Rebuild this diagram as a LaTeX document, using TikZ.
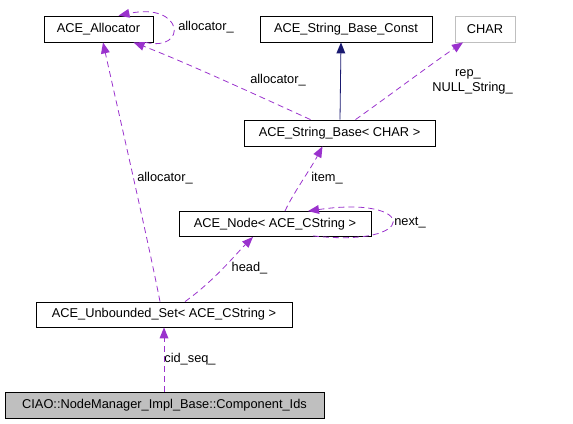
\documentclass[tikz,border=0pt]{standalone}
\usepackage{fontspec}
\setmainfont{Liberation Sans}
\usetikzlibrary{arrows.meta}
\definecolor{edgepurple}{HTML}{9A32CD}
\definecolor{edgenavy}{HTML}{191970}
\definecolor{boxgray}{HTML}{BFBFBF}
\begin{document}
\begin{tikzpicture}[x=1bp,y=-1bp,
  every node/.style={font=\fontsize{12.8bp}{14bp}\selectfont},
  cls/.style={draw=black,line width=0.8bp,minimum height=26bp,inner sep=0pt,fill=white},
  lbl/.style={inner sep=0pt},
  member/.style={draw=edgepurple,line width=0.8bp,dash pattern=on 6bp off 4bp,
    -{Triangle[length=11bp,width=9bp,fill=edgepurple,line width=0pt,sep=0pt]}},
  inherit/.style={draw=edgenavy,line width=0.8bp,
    -{Triangle[length=11bp,width=9bp,fill=edgenavy,line width=0pt]}}]
\useasboundingbox (0,0) rectangle (573,423);
% nodes
\node[cls,minimum width=109bp] (alloc) at (98.5,29) {ACE\_Allocator};
\node[cls,minimum width=172bp] (sbc) at (346,29) {ACE\_String\_Base\_Const};
\node[cls,draw=boxgray,minimum width=60bp] (char) at (485,29) {CHAR};
\node[cls,minimum width=191bp] (sb) at (339.5,133) {ACE\_String\_Base< CHAR >};
\node[cls,minimum width=192bp,minimum height=25bp] (node) at (275,224) {ACE\_Node< ACE\_CString >};
\node[cls,minimum width=256bp,minimum height=25bp] (uset) at (164,314.5) {ACE\_Unbounded\_Set< ACE\_CString >};
\node[cls,fill=boxgray,minimum width=319bp] (ciao) at (164.5,405) {CIAO::NodeManager\_Impl\_Base::Component\_Ids};
% edges
\draw[member] ([xshift=-4bp]uset.north) .. controls (148,240) and (118,110) .. ([xshift=4.5bp]alloc.south);
\draw[member] ([xshift=-29bp]sb.north) .. controls (250,92) and (180,60) .. ([xshift=35bp]alloc.south);
\draw[member] ([xshift=47bp]alloc.south) .. controls (188,52) and (184,2) .. ([xshift=20bp]alloc.north);
\draw[inherit] ([xshift=0.5bp]sb.north) -- ([xshift=-5bp]sbc.south);
\draw[member] ([xshift=16bp]sb.north) .. controls (390,95) and (430,65) .. ([xshift=-22bp]char.south);
\draw[member] ([xshift=10bp]node.north) .. controls (292,195) and (310,170) .. ([xshift=-17bp]sb.south);
\draw[member] ([xshift=38bp,yshift=1bp]node.south) .. controls (420,248) and (418,195) .. ([xshift=33bp]node.north);
\draw[member] ([xshift=21bp]uset.north) .. controls (215,280) and (235,255) .. ([xshift=-22bp]node.south);
\draw[member] (ciao.north -| uset.south) -- (uset.south);
% labels
\node[lbl] (l1) at (206,27) {allocator\_};
\node[lbl] (l2) at (278,80) {allocator\_};
\node[lbl] (l3) at (468,74) {rep\_};
\node[lbl] (l4) at (472.5,88) {NULL\_String\_};
\node[lbl] (l5) at (165,178) {allocator\_};
\node[lbl] (l6) at (327,178) {item\_};
\node[lbl] (l7) at (410,223) {next\_};
\node[lbl] (l8) at (249.5,268) {head\_};
\node[lbl] (l9) at (190,359) {cid\_seq\_};
\end{tikzpicture}
\end{document}
